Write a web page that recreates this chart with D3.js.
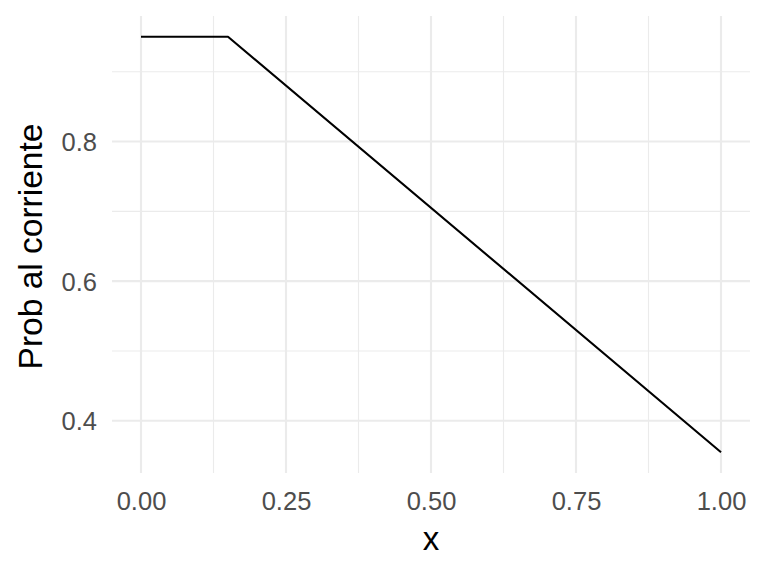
<!DOCTYPE html>
<html><head><meta charset="utf-8">
<script src="https://cdn.jsdelivr.net/npm/d3@7"></script>
<style>body{margin:0;background:#fff}svg{display:block}</style>
</head><body>
<svg id="c" width="768" height="576"></svg>
<script>
const xVals = [0, 0.15, 1.0];
const yVals = [0.95, 0.95, 0.355];
const xTicks = [0, 0.25, 0.5, 0.75, 1.0];
const xMinor = [0.125, 0.375, 0.625, 0.875];
const yTicks = [0.4, 0.6, 0.8];
const yMinor = [0.5, 0.7, 0.9];
const xLabel = "x";
const yLabel = "Prob al corriente";

const svg = d3.select("#c");
const L = 112, R = 750, T = 16, B = 473;
const xr = d3.extent(xVals), yr = d3.extent(yVals);
const xe = (xr[1]-xr[0])*0.05, ye = (yr[1]-yr[0])*0.05;
const x = d3.scaleLinear().domain([xr[0]-xe, xr[1]+xe]).range([L, R]);
const y = d3.scaleLinear().domain([yr[0]-ye, yr[1]+ye]).range([B, T]);

const g = svg.append("g");
g.selectAll(".ymin").data(yMinor).enter().append("line")
  .attr("x1", L).attr("x2", R).attr("y1", d=>y(d)).attr("y2", d=>y(d))
  .attr("stroke", "#ebebeb").attr("stroke-width", 1.1);
g.selectAll(".xmin").data(xMinor).enter().append("line")
  .attr("y1", T).attr("y2", B).attr("x1", d=>x(d)).attr("x2", d=>x(d))
  .attr("stroke", "#ebebeb").attr("stroke-width", 1.1);
g.selectAll(".ymaj").data(yTicks).enter().append("line")
  .attr("x1", L).attr("x2", R).attr("y1", d=>y(d)).attr("y2", d=>y(d))
  .attr("stroke", "#ebebeb").attr("stroke-width", 2.1);
g.selectAll(".xmaj").data(xTicks).enter().append("line")
  .attr("y1", T).attr("y2", B).attr("x1", d=>x(d)).attr("x2", d=>x(d))
  .attr("stroke", "#ebebeb").attr("stroke-width", 2.1);

const pts = xVals.map((v,i)=>[v, yVals[i]]);
svg.append("path").datum(pts)
  .attr("d", d3.line().x(d=>x(d[0])).y(d=>y(d[1])))
  .attr("fill", "none").attr("stroke", "#000").attr("stroke-width", 2.1)
  .attr("stroke-linejoin", "round");

const font = "'Liberation Sans', Arial, sans-serif";
const xAxis = svg.append("g").attr("transform", `translate(0,${B})`)
  .call(d3.axisBottom(x).tickValues(xTicks).tickFormat(d3.format(".2f")).tickSize(0));
const yAxis = svg.append("g").attr("transform", `translate(${L},0)`)
  .call(d3.axisLeft(y).tickValues(yTicks).tickFormat(d3.format(".1f")).tickSize(0));
[xAxis, yAxis].forEach(a => {
  a.select(".domain").remove();
  a.selectAll("text").attr("fill", "#4d4d4d").style("font-family", font).style("font-size", "25.5px");
});
xAxis.selectAll("text").attr("y", 37).attr("dy", null);
yAxis.selectAll("text").attr("x", -15).attr("dy", "0.35em");

svg.append("text").attr("x", (L+R)/2).attr("y", 550).attr("text-anchor", "middle")
  .style("font-family", font).style("font-size", "33px").attr("fill", "#000").text(xLabel);
svg.append("text").attr("transform", `translate(42,${(T+B)/2+2}) rotate(-90)`).attr("text-anchor", "middle")
  .style("font-family", font).style("font-size", "33.5px").attr("fill", "#000").text(yLabel);
</script>
</body></html>
